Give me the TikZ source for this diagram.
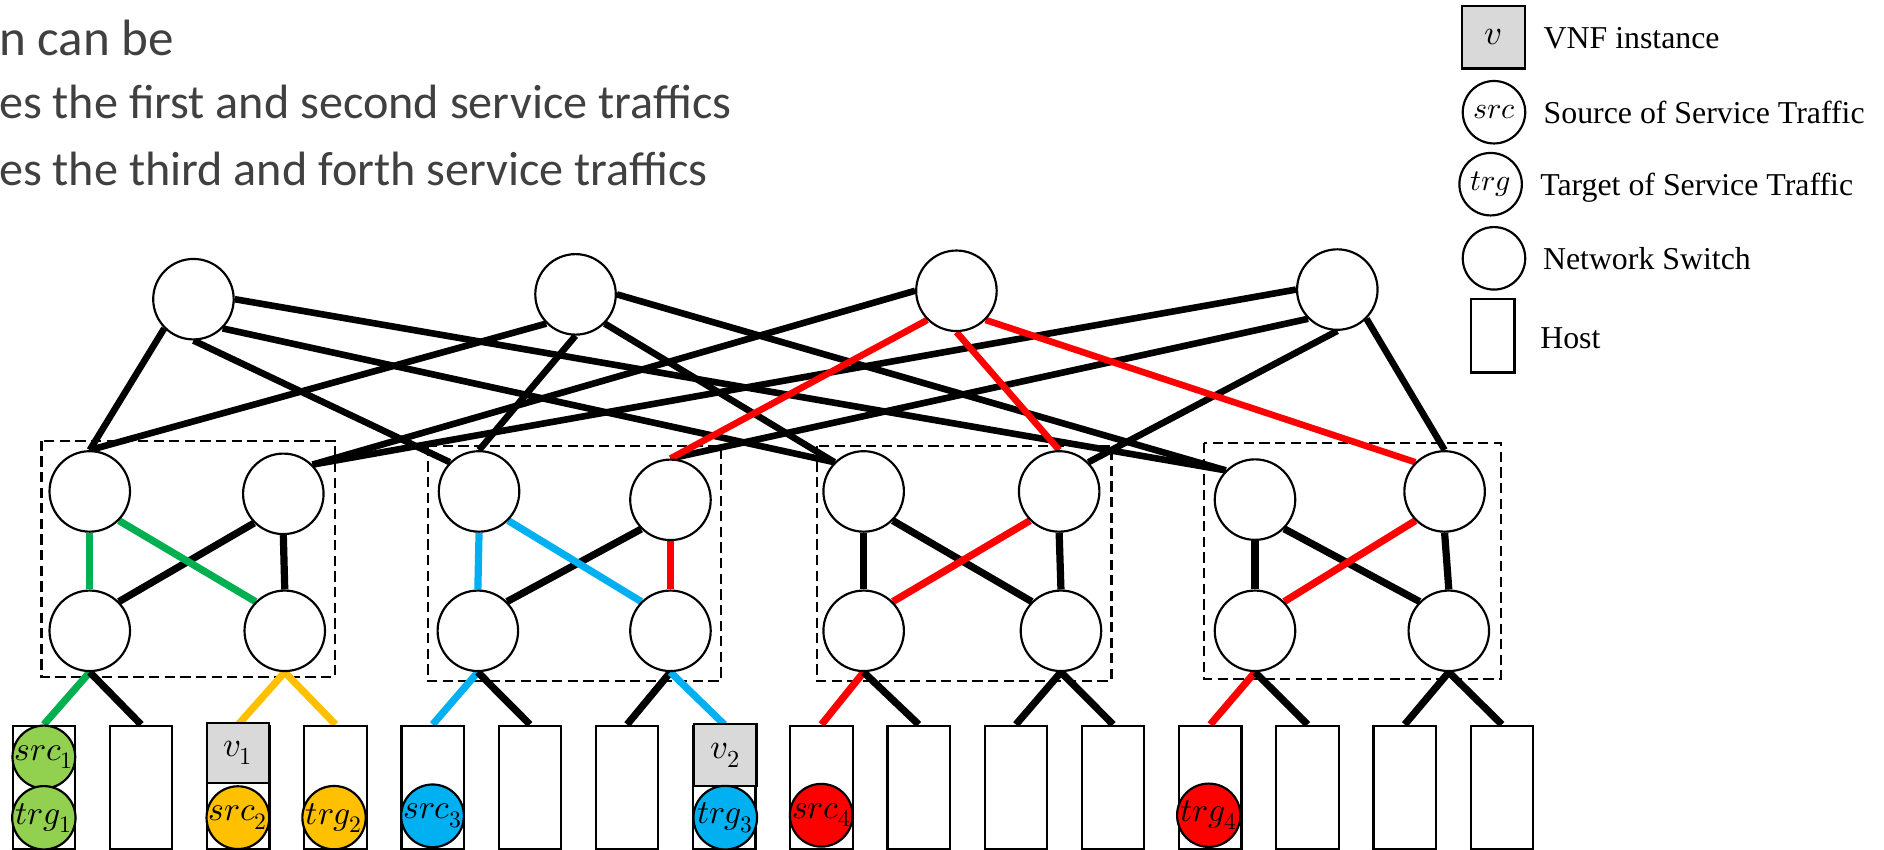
\documentclass[tikz,border=0pt]{standalone}
\usepackage{fontspec}
\usepackage{unicode-math}
\setmainfont{Liberation Serif}
\newfontfamily\slidefont{Carlito}
\usetikzlibrary{backgrounds}

\definecolor{linkgreen}{HTML}{00B050}
\definecolor{fillgreen}{HTML}{92D050}
\definecolor{amber}{HTML}{FFC000}
\definecolor{sky}{HTML}{00B0F0}
\definecolor{vnfgray}{HTML}{D9D9D9}
\definecolor{slidegray}{HTML}{404040}

\begin{document}
\begin{tikzpicture}[x=1pt,y=-1pt,
  switch/.style={circle,draw,line width=1.8pt,fill=white,minimum size=67pt,inner sep=0pt},
  hostbox/.style={rectangle,draw,line width=1.8pt,fill=white,minimum width=52pt,minimum height=103pt,inner sep=0pt,anchor=north},
  vnfbox/.style={rectangle,draw,line width=1.8pt,fill=vnfgray,minimum width=52pt,minimum height=50pt,inner sep=0pt,font=\fontsize{29}{30}\selectfont},
  tag/.style={circle,draw,line width=1.8pt,minimum size=51pt,inner sep=0pt,font=\fontsize{28}{29}\selectfont},
  corelink/.style={line width=5.5pt},
  podlink/.style={line width=6pt},
  podbox/.style={draw,line width=1.8pt,dash pattern=on 8.5pt off 4.5pt},
  slidetext/.style={anchor=base west,inner sep=0pt,text=slidegray,font=\slidefont\fontsize{40.1}{44}\selectfont},
  legendtext/.style={anchor=base west,inner sep=0pt,font=\fontsize{26.5}{30}\selectfont},
]
\useasboundingbox (0,0) rectangle (1568,707);

% slide text, running off the left edge
\node[slidetext,font=\slidefont\fontsize{42.5}{46}\selectfont] (line1) at (-1,45.8) {n can be};
\node[slidetext] (line2) at (-1,98.5) {es the first and second service traffics};
\node[slidetext] (line3) at (-1,154) {es the third and forth service traffics};

% core switches
\node[switch] (C1) at (161,249) {};
\node[switch] (C2) at (479,245) {};
\node[switch] (C3) at (796,242) {};
\node[switch] (C4) at (1113,241) {};

% aggregation switches
\node[switch] (A1) at (74.7,409) {};
\node[switch] (A2) at (235.8,411) {};
\node[switch] (A3) at (398.7,409) {};
\node[switch] (A4) at (558,416) {};
\node[switch] (A5) at (718.8,409) {};
\node[switch] (A6) at (881.5,409) {};
\node[switch] (A7) at (1044.5,415.8) {};
\node[switch] (A8) at (1202.3,409) {};

% edge switches
\node[switch] (E1) at (74.7,525) {};
\node[switch] (E2) at (237,525) {};
\node[switch] (E3) at (397.7,525) {};
\node[switch] (E4) at (558,525) {};
\node[switch] (E5) at (718.8,525) {};
\node[switch] (E6) at (883,525) {};
\node[switch] (E7) at (1044.5,525) {};
\node[switch] (E8) at (1205.8,525) {};

% hosts
\foreach \i in {1,...,16} {
  \node[hostbox] (H\i) at ({36.5+80.9*(\i-1)},603) {};
}

% VNF instances and service traffic end points
\node[vnfbox] (V1) at (198,626.5) {$v_1$};
\node[vnfbox,minimum height=51.5pt] (V2) at (603.6,628.4) {$v_2$};
\node[tag,fill=fillgreen] (S1) at (36.5,630) {$src_1$};
\node[tag,fill=fillgreen] (T1) at (36.5,680.6) {$trg_1$};
\node[tag,fill=amber] (S2) at (198,680.5) {$src_2$};
\node[tag,fill=amber] (T2) at (278,680.5) {$trg_2$};
\node[tag,fill=sky] (S3) at (360,679) {$src_3$};
\node[tag,fill=sky] (T3) at (603.6,680.5) {$trg_3$};
\node[tag,fill=red] (S4) at (683.5,678.5) {$src_4$};
\node[tag,fill=red] (T4) at (1006,678.5) {$trg_4$};

\begin{scope}[on background layer]
  % pods
  \draw[podbox] (34.5,366.8) rectangle (279,563.2);
  \draw[podbox] (356,371) rectangle (600,566.5);
  \draw[podbox] (679.8,371) rectangle (925,566.5);
  \draw[podbox] (1001.7,368.8) rectangle (1249,565);

  % core to aggregation
  \draw[corelink] (C1.south west) -- (A1.north);
  \draw[corelink] (C1.south) -- (A3.north west);
  \draw[corelink] (C1.south east) -- (A5.north west);
  \draw[corelink] (C1.east) -- (A7.north west);
  \draw[corelink] (C2.south west) -- (A1.north);
  \draw[corelink] (C2.south) -- (A3.north);
  \draw[corelink] (C2.south east) -- (A5.north west);
  \draw[corelink] (C2.east) -- (A7.north west);
  \draw[corelink] (C3.west) -- (A2.north east);
  \draw[corelink] (C4.west) -- (A2.north east);
  \draw[corelink] (C4.south west) -- (A4.north);
  \draw[corelink] (C4.south) -- (A6.north east);
  \draw[corelink] (C4.south east) -- (A8.north);
  \draw[corelink,red] (C3.south west) -- (A4.north);
  \draw[corelink,red] (C3.south) -- (A6.north);
  \draw[corelink,red] (C3.south east) -- (A8.north west);

  % aggregation to edge
  \draw[podlink,linkgreen] (A1.south) -- (E1.north);
  \draw[podlink] (A2.south west) -- (E1.north east);
  \draw[podlink,linkgreen] (A1.south east) -- (E2.north west);
  \draw[podlink] (A2.south) -- (E2.north);

  \draw[podlink,sky] (A3.south) -- (E3.north);
  \draw[podlink] (A4.south west) -- (E3.north east);
  \draw[podlink,sky] (A3.south east) -- (E4.north west);
  \draw[podlink,red] (A4.south) -- (E4.north);

  \draw[podlink] (A5.south) -- (E5.north);
  \draw[podlink] (A5.south east) -- (E6.north west);
  \draw[podlink,red] (A6.south west) -- (E5.north east);
  \draw[podlink] (A6.south) -- (E6.north);

  \draw[podlink] (A7.south) -- (E7.north);
  \draw[podlink] (A7.south east) -- (E8.north west);
  \draw[podlink,red] (A8.south west) -- (E7.north east);
  \draw[podlink] (A8.south) -- (E8.north);

  % edge to hosts
  \draw[podlink,linkgreen] (E1.south) -- (H1.north);
  \draw[podlink] (E1.south) -- (H2.north);
  \draw[podlink,amber] (E2.south) -- (H3.north);
  \draw[podlink,amber] (E2.south) -- (H4.north);
  \draw[podlink,sky] (E3.south) -- (H5.north);
  \draw[podlink] (E3.south) -- (H6.north);
  \draw[podlink] (E4.south) -- (H7.north);
  \draw[podlink,sky] (E4.south) -- (H8.north);
  \draw[podlink,red] (E5.south) -- (H9.north);
  \draw[podlink] (E5.south) -- (H10.north);
  \draw[podlink] (E6.south) -- (H11.north);
  \draw[podlink] (E6.south) -- (H12.north);
  \draw[podlink,red] (E7.south) -- (H13.north);
  \draw[podlink] (E7.south) -- (H14.north);
  \draw[podlink] (E8.south) -- (H15.north);
  \draw[podlink] (E8.south) -- (H16.north);
\end{scope}

% legend
\node[vnfbox,minimum width=52pt,minimum height=52pt,font=\fontsize{29}{30}\selectfont] (Lv) at (1243,31) {$v$};
\node[legendtext] (Lvt) at (1284.5,40.2) {VNF instance};
\node[tag,minimum size=52pt,font=\fontsize{25}{26}\selectfont] (Ls) at (1243.4,93.4) {$src$};
\node[legendtext] (Lst) at (1284.5,102.6) {Source of Service Traffic};
\node[tag,minimum size=52pt,font=\fontsize{25}{26}\selectfont] (Lt) at (1240.6,153.3) {$trg$};
\node[legendtext] (Ltt) at (1281.7,163.1) {Target of Service Traffic};
\node[tag,minimum size=52pt] (Ln) at (1243.4,215) {};
\node[legendtext] (Lnt) at (1284,224.2) {Network Switch};
\node[rectangle,draw,line width=1.8pt,minimum width=36.4pt,minimum height=61pt,inner sep=0pt] (Lh) at (1242.2,279.5) {};
\node[legendtext] (Lht) at (1281.7,290) {Host};
\end{tikzpicture}
\end{document}
